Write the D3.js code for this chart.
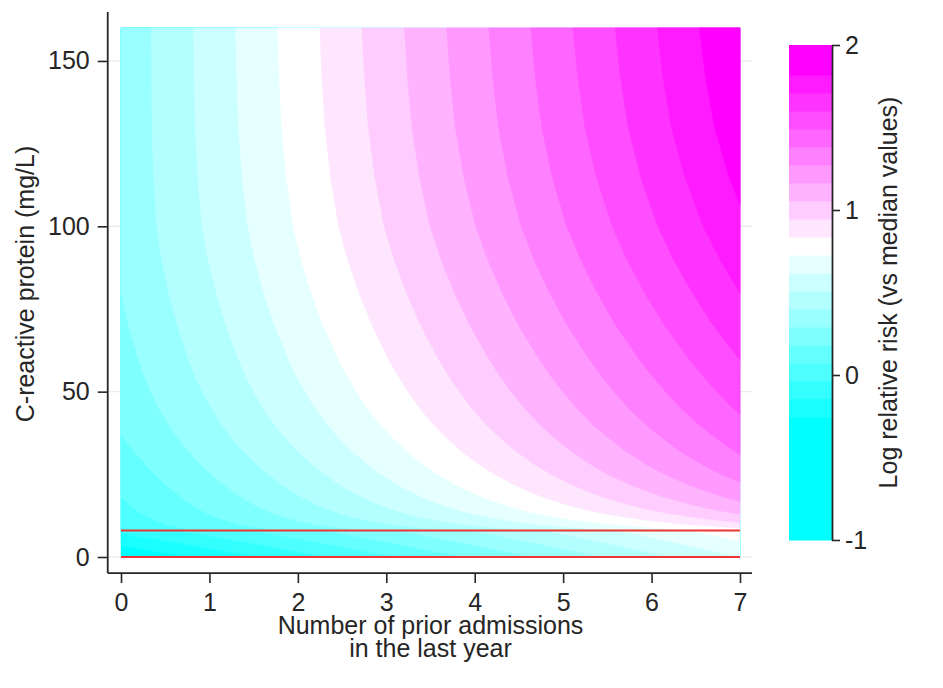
<!DOCTYPE html>
<html>
<head>
<meta charset="utf-8">
<script src="https://cdn.jsdelivr.net/npm/d3@7"></script>
<style>
  html, body { margin: 0; padding: 0; background: #fff; }
  svg { display: block; font-family: "Liberation Sans", Arial, sans-serif; }
</style>
</head>
<body>
<svg width="943" height="688"></svg>
<script>
// grid columns: number of prior admissions (risk is linear along this axis)
var admissions = [0, 7];

// CRP rows (mg/L) from the 8 mg/L cut upwards; each row = [risk at 0 admissions, risk at 7]
var crpHigh = [8, 9, 10, 11, 12, 13, 14, 15, 16, 18, 20, 22, 25, 28, 32, 36, 40, 45,
               50, 55, 60, 70, 80, 90, 100, 115, 130, 145, 160];
var riskHigh = [
  [-0.020, 0.780], [-0.005, 0.855], [0.008, 0.925], [0.019, 0.978], [0.029, 1.022],
  [0.038, 1.058], [0.046, 1.091], [0.053, 1.119], [0.060, 1.145], [0.073, 1.191],
  [0.086, 1.230], [0.099, 1.264], [0.117, 1.310], [0.134, 1.348], [0.156, 1.393],
  [0.176, 1.431], [0.193, 1.467], [0.212, 1.506], [0.228, 1.540], [0.242, 1.573],
  [0.254, 1.603], [0.274, 1.660], [0.291, 1.710], [0.305, 1.756], [0.315, 1.797],
  [0.320, 1.845], [0.322, 1.882], [0.322, 1.906], [0.322, 1.923]
];

// CRP rows below the cut
var crpLow = [0, 4, 8];
var riskLow = [
  [-0.360, 0.620],
  [-0.240, 0.710],
  [-0.120, 0.800]
];

var cuts = [-0.255, -0.145, -0.036, 0.073, 0.182, 0.291, 0.400, 0.509, 0.618, 0.727,
            0.836, 0.945, 1.055, 1.164, 1.273, 1.382, 1.491, 1.600, 1.709, 1.818];
var bandColors = ["#00ffff", "#1affff", "#33ffff", "#4dffff", "#66ffff", "#80ffff", "#99ffff",
                  "#b3ffff", "#ccffff", "#e6ffff", "#ffffff", "#ffe6ff", "#ffccff", "#ffb3ff",
                  "#ff99ff", "#ff80ff", "#ff66ff", "#ff4dff", "#ff33ff", "#ff1aff", "#ff00ff"];

var xTicks = [0, 1, 2, 3, 4, 5, 6, 7];
var yTicks = [0, 50, 100, 150];
var legendTicks = [-1, 0, 1, 2];
var legendRange = [-1, 2];
var refLines = [0, 8];

var svg = d3.select("svg");

var x = d3.scaleLinear().domain([0, 7]).range([121, 740]);
var y = d3.scaleLinear().domain([0, 160]).range([557, 27.9]);
var color = d3.scaleThreshold().domain(cuts).range(bandColors);
var plain = function(d) { return String(d); };

// axis lines sit a little outside the data area
var xAxisExt = [-0.15, 7.135];
var yAxisExt = [-4.85, 164.8];

//gridlines first
svg.append("g").selectAll("line")
    .data(yTicks)
    .enter().append("line")
    .attr("x1", x(xAxisExt[0])).attr("x2", x(xAxisExt[1]))
    .attr("y1", function(d) { return y(d); })
    .attr("y2", function(d) { return y(d); })
    .attr("stroke", "#e6eef3")
    .attr("stroke-width", 1.4);

var field = svg.append("g");

function drawField(rows, grid) {
  var nx = admissions.length, ny = rows.length;
  var values = [];
  grid.forEach(function(r) { r.forEach(function(v) { values.push(v); }); });
  var colPos = d3.scaleLinear().domain(d3.range(nx)).range(admissions).clamp(true);
  var rowPos = d3.scaleLinear().domain(d3.range(ny)).range(rows).clamp(true);
  var path = d3.geoPath(d3.geoTransform({
    point: function(gx, gy) {
      this.stream.point(x(colPos(gx - 0.5)), y(rowPos(gy - 0.5)));
    }
  }));
  var contours = d3.contours()
      .size([nx, ny])
      .thresholds([-5].concat(cuts))(values);
  field.append("g").selectAll("path")
      .data(contours)
      .enter().append("path")
      .attr("d", path)
      .attr("fill", function(d) { return color(d.value); })
      .attr("stroke", function(d) { return color(d.value); })
      .attr("stroke-width", 0.4);
}

drawField(crpLow, riskLow);
drawField(crpHigh, riskHigh);

// reference lines
svg.append("g").selectAll("line")
    .data(refLines)
    .enter().append("line")
    .attr("x1", x(0)).attr("x2", x(7))
    .attr("y1", function(d) { return y(d); })
    .attr("y2", function(d) { return y(d); })
    .attr("stroke", "#f03535")
    .attr("stroke-width", 2);

// axes
var xAxis = svg.append("g")
    .attr("transform", "translate(0," + y(yAxisExt[0]) + ")")
    .call(d3.axisBottom(x).tickValues(xTicks).tickFormat(plain).tickSize(10).tickPadding(10));
var yAxis = svg.append("g")
    .attr("transform", "translate(" + x(xAxisExt[0]) + ",0)")
    .call(d3.axisLeft(y).tickValues(yTicks).tickFormat(plain).tickSize(10).tickPadding(8));

[xAxis, yAxis].forEach(function(a) {
  a.select(".domain").remove();
  a.attr("font-size", 25).attr("font-family", null).style("color", "#262626");
  a.selectAll(".tick line").attr("stroke-width", 1.6);
});

svg.append("line")
    .attr("x1", x(xAxisExt[0])).attr("x2", x(xAxisExt[1]))
    .attr("y1", y(yAxisExt[0])).attr("y2", y(yAxisExt[0]))
    .attr("stroke", "#262626").attr("stroke-width", 1.8);
svg.append("line")
    .attr("x1", x(xAxisExt[0])).attr("x2", x(xAxisExt[0]))
    .attr("y1", y(yAxisExt[0])).attr("y2", y(yAxisExt[1]))
    .attr("stroke", "#262626").attr("stroke-width", 1.8);

// axis titles
svg.append("text")
    .attr("x", (x(0) + x(7)) / 2).attr("y", 634)
    .attr("text-anchor", "middle").attr("font-size", 25).attr("fill", "#262626")
    .text("Number of prior admissions");
svg.append("text")
    .attr("x", (x(0) + x(7)) / 2).attr("y", 657)
    .attr("text-anchor", "middle").attr("font-size", 25).attr("fill", "#262626")
    .text("in the last year");
svg.append("text")
    .attr("transform", "translate(25,284) rotate(-90)")
    .attr("dy", "0.35em")
    .attr("text-anchor", "middle").attr("font-size", 25).attr("fill", "#262626")
    .text("C-reactive protein (mg/L)");

// colour legend
var ly = d3.scaleLinear().domain(legendRange).range([540, 45]);
var bandEdges = [legendRange[0]].concat(cuts, [legendRange[1]]);
var legend = svg.append("g");
legend.selectAll("rect")
    .data(d3.range(bandEdges.length - 1))
    .enter().append("rect")
    .attr("x", 789)
    .attr("width", 43)
    .attr("y", function(i) { return ly(bandEdges[i + 1]); })
    .attr("height", function(i) { return ly(bandEdges[i]) - ly(bandEdges[i + 1]) + 0.5; })
    .attr("fill", function(i) { return bandColors[i]; });

var lAxis = svg.append("g")
    .attr("transform", "translate(832,0)")
    .call(d3.axisRight(ly).tickValues(legendTicks).tickFormat(plain)
      .tickSize(8).tickPadding(5).tickSizeOuter(0));
lAxis.attr("font-size", 25).attr("font-family", null).style("color", "#262626");
lAxis.select(".domain").attr("stroke-width", 1.8);
lAxis.selectAll(".tick line").attr("stroke-width", 1.6);

svg.append("text")
    .attr("transform", "translate(888," + (ly(-1) + ly(2)) / 2 + ") rotate(-90)")
    .attr("dy", "0.35em")
    .attr("text-anchor", "middle").attr("font-size", 25).attr("fill", "#262626")
    .text("Log relative risk (vs median values)");
</script>
</body>
</html>
